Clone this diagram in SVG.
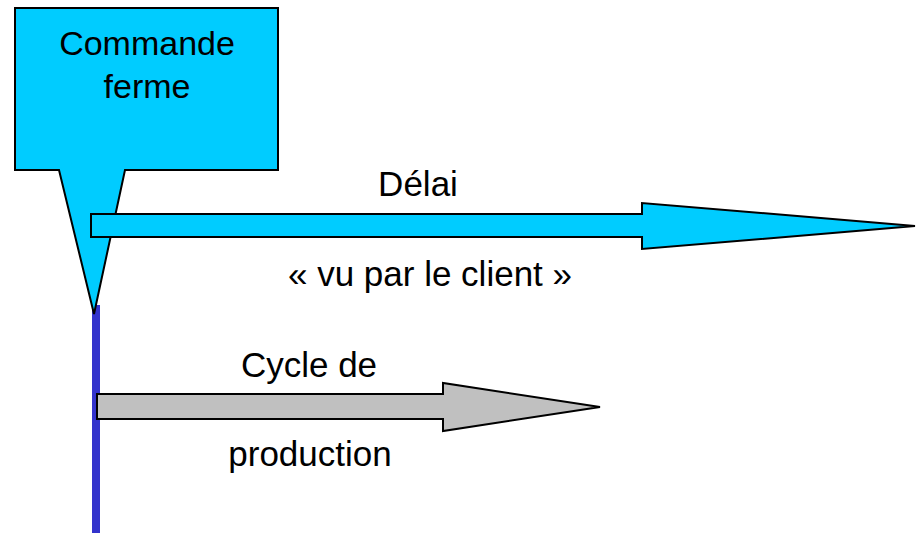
<svg xmlns="http://www.w3.org/2000/svg" width="921" height="533" viewBox="0 0 921 533">
<style>
text{font-family:"Liberation Sans",Arial,sans-serif;font-size:35px;fill:#000;text-anchor:middle}
.cy{fill:#00CCFF;stroke:#000;stroke-width:2;stroke-linejoin:miter}
.gr{fill:#C0C0C0;stroke:#000;stroke-width:2}
</style>
<rect width="921" height="533" fill="#fff"/>
<g id="timeline">
<line x1="96" y1="305" x2="96" y2="533" stroke="#3333CC" stroke-width="8"/>
</g>
<g id="commande-ferme">
<path class="cy" d="M15,8 H278 V170 H125 L94,314 L59,170 H15 Z"/>
<text x="147" y="55" style="font-size:34px">Commande</text>
<text x="147" y="98" style="font-size:34px">ferme</text>
</g>
<g id="connectors">
<g id="delai">
<path class="cy" d="M91,214 H642 V203 L915,226 L642,249 V237 H91 Z"/>
</g>
<g id="cycle">
<path class="gr" d="M97,394 H443 V383 L600,407 L443,431 V419 H97 Z"/>
</g>
</g>
<g id="labels">
<text x="418" y="196">Délai</text>
<text x="430" y="286">« vu par le client »</text>
<text x="309" y="377">Cycle de</text>
<text x="310" y="466">production</text>
</g>
</svg>
